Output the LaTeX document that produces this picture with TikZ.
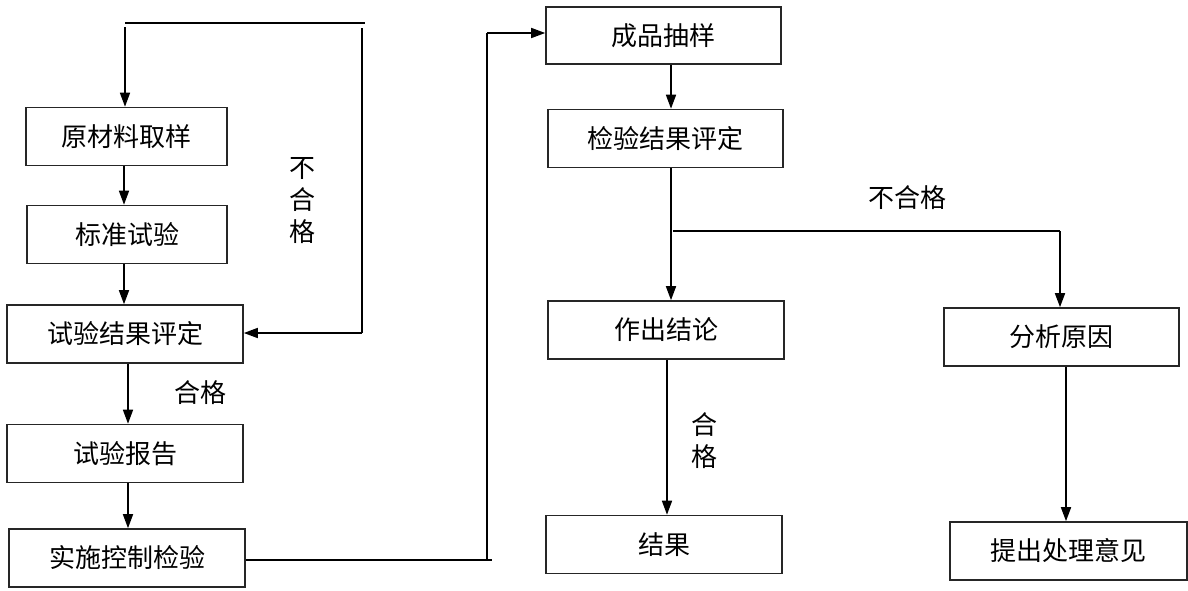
\documentclass[tikz,border=0pt]{standalone}
\usepackage{fontspec}
\newfontfamily\cjk{Noto Sans CJK SC}
\usetikzlibrary{arrows.meta}
\begin{document}
\begin{tikzpicture}[x=1pt,y=-1pt,
  box/.style={draw=black!85, line width=1.6pt, minimum height=58pt, inner sep=0pt,
    font=\cjk\fontsize{26}{30}\selectfont},
  lbl/.style={font=\cjk\fontsize{26}{32}\selectfont, align=center, inner sep=0pt},
  arr/.style={line width=1.6pt, -{Triangle[length=14pt,width=10pt]}},
  thk/.style={line width=2.8pt},
  mid/.style={line width=2pt}]
\useasboundingbox (0,0) rectangle (1188,590);
\fill[white] (0,0) rectangle (1188,590);
% left column
\node[box, minimum width=201pt] (b1) at (126.5,136.5) {原材料取样};
\node[box, minimum width=200pt] (b2) at (127,234.5) {标准试验};
\node[box, minimum width=236pt] (b3) at (125,334) {试验结果评定};
\node[box, minimum width=236pt] (b4) at (125,453.5) {试验报告};
\node[box, minimum width=236pt] (b5) at (127,558) {实施控制检验};
% middle column
\node[box, minimum width=235pt, minimum height=57pt] (c1) at (663.5,35.5) {成品抽样};
\node[box, minimum width=235pt] (c2) at (665.5,138.5) {检验结果评定};
\node[box, minimum width=236pt] (c3) at (666,330) {作出结论};
\node[box, minimum width=236pt] (c4) at (664,544.5) {结果};
% right column
\node[box, minimum width=235pt] (d1) at (1061.5,337) {分析原因};
\node[box, minimum width=237pt] (d2) at (1068.5,551) {提出处理意见};
% labels
\node[lbl] (l1) at (200,393) {合格};
\node[lbl] (l2) at (302,201) {不\\合\\格};
\node[lbl] (l3) at (907,198) {不合格};
\node[lbl] (l4) at (704,441) {合\\格};
% coordinates
\coordinate (t1) at (125,23);
\coordinate (t2) at (365,23);
\coordinate (t3) at (362,28);
\coordinate (t4) at (362,333);
\coordinate (t0) at (125,27);
\coordinate (u1) at (492,560);
\coordinate (u2) at (487,560);
\coordinate (u3) at (487,33);
\coordinate (v1) at (673,231);
\coordinate (v2) at (1060,231);
% loop on the left
\draw[thk] (t1) -- (t2);
\draw[thk] (t3) -- (t4);
\draw[arr] (t0) -- (t0 |- b1.north);
\draw[arr] (t4) -- (b3.east |- t4);
% left column arrows
\draw[arr] ([xshift=-2.5pt]b1.south) -- ([xshift=-2.5pt]b1.south |- b2.north);
\draw[arr] ([xshift=-3pt]b2.south) -- ([xshift=-3pt]b2.south |- b3.north);
\draw[arr] ([xshift=3pt]b3.south) -- ([xshift=3pt]b3.south |- b4.north);
\draw[arr] ([xshift=3pt]b4.south) -- ([xshift=3pt]b4.south |- b5.north);
% route to finished product sampling
\draw[thk] (b5.east |- u1) -- (u1);
\draw[mid] (u2) -- (u3);
\draw[arr] (u3) -- (c1.west |- u3);
% middle column
\draw[arr] ([xshift=7.5pt]c1.south) -- ([xshift=7.5pt]c1.south |- c2.north);
\draw[arr] ([xshift=5.5pt]c2.south) -- ([xshift=5.5pt]c2.south |- c3.north);
\draw[thk] (v1) -- (v2);
\draw[arr] (v2) -- (v2 |- d1.north);
\draw[arr] ([xshift=1pt]c3.south) -- ([xshift=1pt]c3.south |- c4.north);
\draw[arr] ([xshift=4.5pt]d1.south) -- ([xshift=4.5pt]d1.south |- d2.north);
\end{tikzpicture}
\end{document}
